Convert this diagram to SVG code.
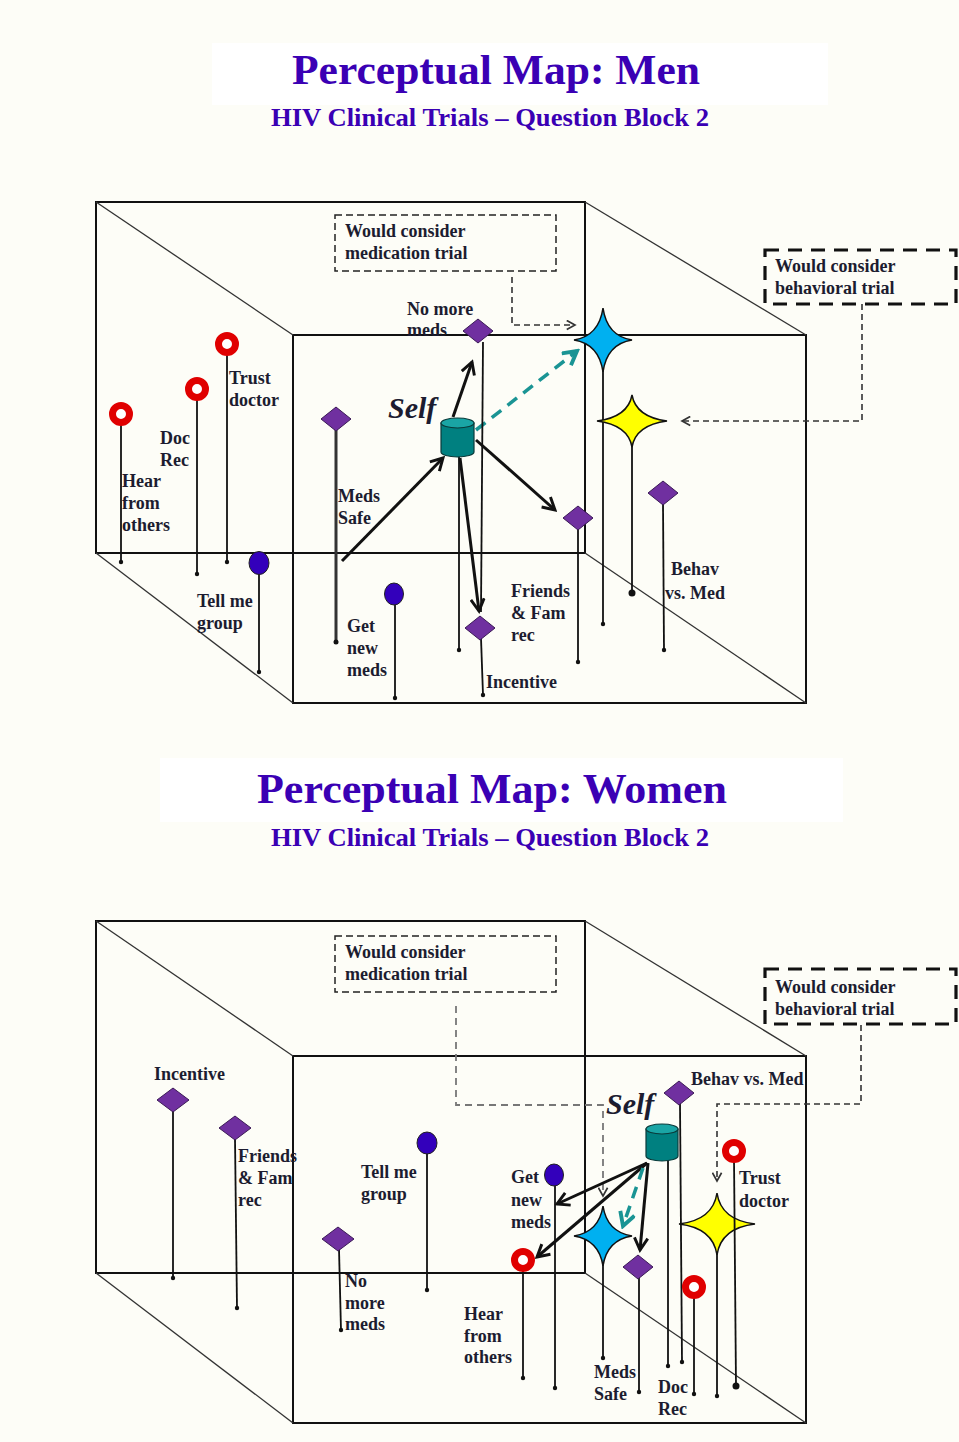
<svg xmlns="http://www.w3.org/2000/svg" width="959" height="1442" viewBox="0 0 959 1442">
<defs>
<style>
.bg{fill:#fdfdf7}
.tbox{fill:#ffffff}
.title{font-family:"Liberation Serif",serif;font-weight:bold;fill:#3a00b4;text-anchor:middle}
.lbl{font-family:"Liberation Serif",serif;font-weight:bold;font-size:18px;fill:#1c1c30}
.self{font-family:"Liberation Serif",serif;font-weight:bold;font-style:italic;font-size:30px;fill:#1c1c30}
.frame{stroke:#111;stroke-width:2;fill:none}
.diag{stroke:#333;stroke-width:1.3;fill:none}
.stem{stroke:#111;stroke-width:1.8;fill:none}
.dot{fill:#111}
.dia{fill:#7030a0;stroke:#3a1a55;stroke-width:1}
.ring{fill:#fff;stroke:#e00000;stroke-width:7;}
.ringo{fill:none;stroke:#600;stroke-width:0.8}
.bcirc{fill:#3300bb;stroke:#222;stroke-width:1}
.bstar{fill:#00b0f0;stroke:#111;stroke-width:1.5}
.ystar{fill:#ffff00;stroke:#111;stroke-width:1.5}
.cylb{fill:#008080;stroke:#0a3a3a;stroke-width:1.2}
.cylt{fill:#1aa5a5;stroke:#0a3a3a;stroke-width:1.2}
.arr{stroke:#111;stroke-width:3;fill:none;marker-end:url(#ah)}
.tarr{stroke:#1a9494;stroke-width:3.5;fill:none;stroke-dasharray:12 8;marker-end:url(#ath)}
.dcon{stroke:#333;stroke-width:1.6;fill:none;stroke-dasharray:6 4;marker-end:url(#ahs)}
.gcon{stroke:#777;stroke-width:1.8;fill:none;stroke-dasharray:7 5}
.mbox{fill:none;stroke:#222;stroke-width:1.5;stroke-dasharray:7 4}
.bbox{fill:none;stroke:#111;stroke-width:3.2;stroke-dasharray:14 9}
</style>
<marker id="ah" viewBox="0 0 12 12" refX="10" refY="6" markerWidth="16" markerHeight="16" markerUnits="userSpaceOnUse" orient="auto">
<path d="M1,1 L10,6 L1,11" fill="none" stroke="#111" stroke-width="2.2"/>
</marker>
<marker id="ath" viewBox="0 0 12 12" refX="10" refY="6" markerWidth="18" markerHeight="18" markerUnits="userSpaceOnUse" orient="auto">
<path d="M1,1 L10,6 L1,11" fill="none" stroke="#1a9494" stroke-width="2.6"/>
</marker>
<marker id="ahs" viewBox="0 0 12 12" refX="10" refY="6" markerWidth="11" markerHeight="11" markerUnits="userSpaceOnUse" orient="auto">
<path d="M1,1 L10,6 L1,11" fill="none" stroke="#333" stroke-width="1.8"/>
</marker>
</defs>
<rect class="bg" x="0" y="0" width="959" height="1442"/>

<!-- ================= MEN ================= -->
<g id="title-men">
<rect class="tbox" x="212" y="43" width="616" height="62"/>
<text class="title" x="496" y="84" font-size="42" textLength="408" lengthAdjust="spacingAndGlyphs">Perceptual Map: Men</text>
<text class="title" x="490" y="126" font-size="25" textLength="438" lengthAdjust="spacingAndGlyphs">HIV Clinical Trials – Question Block 2</text>
</g>

<g id="cube-men">
<rect class="frame" x="96" y="202" width="489" height="351"/>
<rect class="frame" x="293" y="335" width="513" height="368"/>
<line class="diag" x1="96" y1="202" x2="293" y2="335"/>
<line class="diag" x1="585" y1="202" x2="806" y2="335"/>
<line class="diag" x1="96" y1="553" x2="293" y2="703"/>
<line class="diag" x1="585" y1="553" x2="806" y2="703"/>
</g>

<g id="men-connectors">
<path class="dcon" d="M512,277 L512,325 L575,325"/>
<path class="dcon" d="M862,304 L862,421 L682,421"/>
<line class="arr" x1="342" y1="561" x2="443" y2="458"/>
<line class="arr" x1="453" y1="417" x2="472" y2="362"/>
<line class="arr" x1="476" y1="440" x2="555" y2="510"/>
<line class="arr" x1="460" y1="458" x2="479" y2="611"/>
<line class="tarr" x1="476" y1="430" x2="577" y2="351"/>
</g>

<g id="men-med-box">
<rect class="mbox" x="335" y="215" width="221" height="56"/>
<text class="lbl" x="345" y="237">Would consider</text>
<text class="lbl" x="345" y="259">medication trial</text>
</g>
<g id="men-beh-box">
<rect class="bbox" x="765" y="250" width="191" height="54"/>
<text class="lbl" x="775" y="272">Would consider</text>
<text class="lbl" x="775" y="294">behavioral trial</text>
</g>

<g id="men-hear">
<line class="stem" x1="121" y1="420" x2="121" y2="562"/><circle class="dot" cx="121" cy="562" r="2.2"/>
<circle class="ring" cx="121" cy="414" r="8.5"/>
<text class="lbl" x="122" y="487">Hear</text><text class="lbl" x="122" y="509">from</text><text class="lbl" x="122" y="531">others</text>
</g>
<g id="men-docrec">
<line class="stem" x1="197" y1="395" x2="197" y2="574"/><circle class="dot" cx="197" cy="574" r="2.2"/>
<circle class="ring" cx="197" cy="389" r="8.5"/>
<text class="lbl" x="160" y="444">Doc</text><text class="lbl" x="160" y="466">Rec</text>
</g>
<g id="men-trust">
<line class="stem" x1="227" y1="350" x2="227" y2="562"/><circle class="dot" cx="227" cy="562" r="2.2"/>
<circle class="ring" cx="227" cy="344" r="8.5"/>
<text class="lbl" x="229" y="384">Trust</text><text class="lbl" x="229" y="406">doctor</text>
</g>
<g id="men-tellme">
<line class="stem" x1="259" y1="570" x2="259" y2="672"/><circle class="dot" cx="259" cy="672" r="2.2"/>
<ellipse class="bcirc" cx="259" cy="563" rx="10" ry="11.5"/>
<text class="lbl" x="197" y="607">Tell me</text><text class="lbl" x="197" y="629">group</text>
</g>
<g id="men-medssafe">
<line x1="336" y1="428" x2="336" y2="642" stroke="#333" stroke-width="3"/><circle class="dot" cx="336" cy="642" r="2.5"/>
<polygon class="dia" points="336,407 351,419 336,431 321,419"/>
<text class="lbl" x="338" y="502">Meds</text><text class="lbl" x="338" y="524">Safe</text>
</g>
<g id="men-getnew">
<line class="stem" x1="395" y1="602" x2="395" y2="698"/><circle class="dot" cx="395" cy="698" r="2.2"/>
<ellipse class="bcirc" cx="394" cy="594" rx="9.5" ry="11"/>
<text class="lbl" x="347" y="632">Get</text><text class="lbl" x="347" y="654">new</text><text class="lbl" x="347" y="676">meds</text>
</g>
<g id="men-nomore">
<line class="stem" x1="483" y1="342" x2="481" y2="612"/>
<polygon class="dia" points="478,319 493,331 478,343 463,331"/>
<text class="lbl" x="407" y="315">No more</text><text class="lbl" x="407" y="336">meds</text>
</g>
<g id="men-self">
<line class="stem" x1="459" y1="455" x2="459" y2="650"/><circle class="dot" cx="459" cy="650" r="2.2"/>
<path class="cylb" d="M441,423 L441,452 A16.5,5 0 0 0 474,452 L474,423 Z"/>
<ellipse class="cylt" cx="457.5" cy="423" rx="16.5" ry="5"/>
<text class="self" x="388" y="418">Self</text>
</g>
<g id="men-incentive">
<line class="stem" x1="481" y1="638" x2="483" y2="695"/><circle class="dot" cx="483" cy="695" r="2.2"/>
<polygon class="dia" points="480,616 495,628 480,640 465,628"/>
<text class="lbl" x="486" y="688">Incentive</text>
</g>
<g id="men-friends">
<line class="stem" x1="578" y1="528" x2="578" y2="662"/><circle class="dot" cx="578" cy="662" r="2.2"/>
<polygon class="dia" points="578,506 593,518 578,530 563,518"/>
<text class="lbl" x="511" y="597">Friends</text><text class="lbl" x="511" y="619">&amp; Fam</text><text class="lbl" x="511" y="641">rec</text>
</g>
<g id="men-bluestar">
<line class="stem" x1="603" y1="365" x2="603" y2="624"/><circle class="dot" cx="603" cy="624" r="2.2"/>
<path class="bstar" d="M603,308 Q607,336 632,340 Q607,344 603,372 Q599,344 574,340 Q599,336 603,308Z"/>
</g>
<g id="men-yellowstar">
<line class="stem" x1="632" y1="443" x2="632" y2="593"/><circle class="dot" cx="632" cy="593" r="3.5"/>
<path class="ystar" d="M632,395 Q636,417 667,421 Q636,425 632,447 Q628,425 597,421 Q628,417 632,395Z"/>
</g>
<g id="men-behav">
<line class="stem" x1="663" y1="503" x2="664" y2="650"/><circle class="dot" cx="664" cy="650" r="2.2"/>
<polygon class="dia" points="663,481 678,493 663,505 648,493"/>
<text class="lbl" x="671" y="575">Behav</text><text class="lbl" x="665" y="599">vs. Med</text>
</g>

<!-- ================= WOMEN ================= -->
<g id="title-women">
<rect class="tbox" x="160" y="758" width="683" height="64"/>
<text class="title" x="492" y="803" font-size="42" textLength="470" lengthAdjust="spacingAndGlyphs">Perceptual Map: Women</text>
<text class="title" x="490" y="846" font-size="25" textLength="438" lengthAdjust="spacingAndGlyphs">HIV Clinical Trials – Question Block 2</text>
</g>

<g id="cube-women">
<rect class="frame" x="96" y="921" width="489" height="352"/>
<rect class="frame" x="293" y="1056" width="513" height="367"/>
<line class="diag" x1="96" y1="921" x2="293" y2="1056"/>
<line class="diag" x1="585" y1="921" x2="806" y2="1056"/>
<line class="diag" x1="96" y1="1273" x2="293" y2="1423"/>
<line class="diag" x1="585" y1="1273" x2="806" y2="1423"/>
</g>

<g id="women-connectors">
<path class="gcon" d="M456,1006 L456,1105 L603,1105 L603,1196" marker-end="url(#ahs)"/>
<path class="dcon" d="M861,1025 L861,1104 L717,1104 L717,1181"/>
<line class="arr" x1="647" y1="1163" x2="557" y2="1204"/>
<line class="arr" x1="647" y1="1163" x2="537" y2="1257"/>
<line class="arr" x1="648" y1="1163" x2="640" y2="1250"/>
<line class="tarr" x1="643" y1="1168" x2="623" y2="1226"/>
</g>

<g id="women-med-box">
<rect class="mbox" x="335" y="936" width="221" height="56"/>
<text class="lbl" x="345" y="958">Would consider</text>
<text class="lbl" x="345" y="980">medication trial</text>
</g>
<g id="women-beh-box">
<rect class="bbox" x="765" y="969" width="191" height="55"/>
<text class="lbl" x="775" y="993">Would consider</text>
<text class="lbl" x="775" y="1015">behavioral trial</text>
</g>

<g id="women-incentive">
<line class="stem" x1="173" y1="1110" x2="173" y2="1278"/><circle class="dot" cx="173" cy="1278" r="2.2"/>
<polygon class="dia" points="173,1088 189,1100 173,1112 157,1100"/>
<text class="lbl" x="154" y="1080">Incentive</text>
</g>
<g id="women-friends">
<line class="stem" x1="235" y1="1138" x2="237" y2="1308"/><circle class="dot" cx="237" cy="1308" r="2.2"/>
<polygon class="dia" points="235,1116 251,1128 235,1140 219,1128"/>
<text class="lbl" x="238" y="1162">Friends</text><text class="lbl" x="238" y="1184">&amp; Fam</text><text class="lbl" x="238" y="1206">rec</text>
</g>
<g id="women-nomore">
<line class="stem" x1="339" y1="1249" x2="341" y2="1330"/><circle class="dot" cx="341" cy="1330" r="2.2"/>
<polygon class="dia" points="338,1227 354,1239 338,1251 322,1239"/>
<text class="lbl" x="345" y="1287">No</text><text class="lbl" x="345" y="1309">more</text><text class="lbl" x="345" y="1330">meds</text>
</g>
<g id="women-tellme">
<line class="stem" x1="427" y1="1152" x2="427" y2="1290"/><circle class="dot" cx="427" cy="1290" r="2.2"/>
<ellipse class="bcirc" cx="427" cy="1143" rx="10" ry="11"/>
<text class="lbl" x="361" y="1178">Tell me</text><text class="lbl" x="361" y="1200">group</text>
</g>
<g id="women-hear">
<line class="stem" x1="523" y1="1267" x2="523" y2="1378"/><circle class="dot" cx="523" cy="1378" r="2.2"/>
<circle class="ring" cx="523" cy="1260" r="8.5"/>
<text class="lbl" x="464" y="1320">Hear</text><text class="lbl" x="464" y="1342">from</text><text class="lbl" x="464" y="1363">others</text>
</g>
<g id="women-getnew">
<line class="stem" x1="555" y1="1184" x2="555" y2="1388"/><circle class="dot" cx="555" cy="1388" r="2.2"/>
<ellipse class="bcirc" cx="554" cy="1175" rx="9.5" ry="11"/>
<text class="lbl" x="511" y="1183">Get</text><text class="lbl" x="511" y="1206">new</text><text class="lbl" x="511" y="1228">meds</text>
</g>
<g id="women-bluestar">
<line class="stem" x1="603" y1="1262" x2="603" y2="1358"/><circle class="dot" cx="603" cy="1358" r="2.2"/>
<path class="bstar" d="M603,1206 Q607,1232 632,1236 Q607,1240 603,1266 Q599,1240 574,1236 Q599,1232 603,1206Z"/>
</g>
<g id="women-medssafe">
<line class="stem" x1="639" y1="1277" x2="639" y2="1392"/><circle class="dot" cx="639" cy="1392" r="2.2"/>
<polygon class="dia" points="638,1255 653,1267 638,1279 623,1267"/>
<text class="lbl" x="594" y="1378">Meds</text><text class="lbl" x="594" y="1400">Safe</text>
</g>
<g id="women-self">
<line class="stem" x1="668" y1="1160" x2="668" y2="1366"/><circle class="dot" cx="668" cy="1366" r="2.2"/>
<path class="cylb" d="M646,1129 L646,1156 A16,5 0 0 0 678,1156 L678,1129 Z"/>
<ellipse class="cylt" cx="662" cy="1129" rx="16" ry="5"/>
<text class="self" x="606" y="1114">Self</text>
</g>
<g id="women-behav">
<line class="stem" x1="680" y1="1103" x2="682" y2="1362"/><circle class="dot" cx="682" cy="1362" r="2.2"/>
<polygon class="dia" points="679,1081 694,1093 679,1105 664,1093"/>
<text class="lbl" x="691" y="1085">Behav vs. Med</text>
</g>
<g id="women-docrec">
<line class="stem" x1="694" y1="1294" x2="694" y2="1394"/><circle class="dot" cx="694" cy="1394" r="2.2"/>
<circle class="ring" cx="694" cy="1287" r="8.5"/>
<text class="lbl" x="658" y="1393">Doc</text><text class="lbl" x="658" y="1415">Rec</text>
</g>
<g id="women-yellowstar">
<line class="stem" x1="717" y1="1250" x2="717" y2="1396"/><circle class="dot" cx="717" cy="1396" r="2.2"/>
<path class="ystar" d="M717,1193 Q721,1220 755,1224 Q721,1228 717,1255 Q713,1228 679,1224 Q713,1220 717,1193Z"/>
</g>
<g id="women-trust">
<line class="stem" x1="734" y1="1158" x2="736" y2="1386"/><circle class="dot" cx="736" cy="1386" r="3.5"/>
<circle class="ring" cx="734" cy="1151" r="8.5"/>
<text class="lbl" x="739" y="1184">Trust</text><text class="lbl" x="739" y="1207">doctor</text>
</g>
</svg>
